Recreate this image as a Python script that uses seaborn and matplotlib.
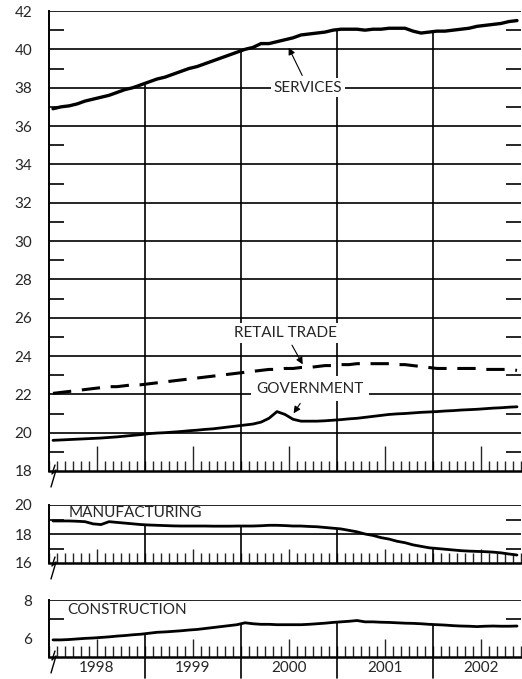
import numpy as np
import pandas as pd
import seaborn as sns
import matplotlib.pyplot as plt
from matplotlib import transforms

# Monthly employment by sector, millions (Jan 1998 - Nov 2002)
services = [36.9, 37.0, 37.05, 37.15, 37.3, 37.4, 37.5, 37.6, 37.75, 37.9, 38.0, 38.15,
            38.3, 38.45, 38.55, 38.7, 38.85, 39.0, 39.1, 39.25, 39.4, 39.55, 39.7, 39.85,
            40.0, 40.1, 40.3, 40.3, 40.4, 40.5, 40.6, 40.75, 40.8, 40.85, 40.9, 41.0,
            41.05, 41.05, 41.05, 41.0, 41.05, 41.05, 41.1, 41.1, 41.1, 40.95, 40.85, 40.9,
            40.95, 40.95, 41.0, 41.05, 41.1, 41.2, 41.25, 41.3, 41.35, 41.45, 41.5]
retail = [22.05, 22.1, 22.15, 22.2, 22.25, 22.3, 22.35, 22.4, 22.4, 22.45, 22.5, 22.5,
          22.55, 22.6, 22.65, 22.7, 22.75, 22.8, 22.85, 22.9, 22.95, 23.0, 23.05, 23.1,
          23.15, 23.2, 23.25, 23.3, 23.3, 23.35, 23.35, 23.4, 23.4, 23.45, 23.5, 23.5,
          23.55, 23.55, 23.6, 23.6, 23.6, 23.6, 23.6, 23.55, 23.55, 23.5, 23.45, 23.4,
          23.35, 23.35, 23.35, 23.35, 23.35, 23.35, 23.3, 23.3, 23.3, 23.3, 23.25]
government = [19.6, 19.62, 19.64, 19.66, 19.68, 19.7, 19.72, 19.75, 19.78, 19.82, 19.86, 19.9,
              19.95, 19.98, 20.0, 20.03, 20.06, 20.1, 20.13, 20.17, 20.2, 20.25, 20.3, 20.35,
              20.4, 20.45, 20.55, 20.75, 21.1, 20.95, 20.7, 20.6, 20.6, 20.6, 20.62, 20.65,
              20.68, 20.72, 20.75, 20.8, 20.85, 20.9, 20.95, 20.98, 21.0, 21.03, 21.06, 21.08,
              21.1, 21.13, 21.15, 21.18, 21.2, 21.22, 21.25, 21.28, 21.3, 21.33, 21.35]
manufacturing = [18.9, 18.9, 18.9, 18.88, 18.85, 18.7, 18.65, 18.85, 18.8, 18.75, 18.7, 18.65,
                 18.62, 18.6, 18.58, 18.56, 18.55, 18.55, 18.55, 18.55, 18.54, 18.54, 18.54, 18.55,
                 18.55, 18.55, 18.57, 18.6, 18.6, 18.58, 18.55, 18.55, 18.52, 18.5, 18.45, 18.4,
                 18.35, 18.25, 18.15, 18.0, 17.9, 17.75, 17.65, 17.5, 17.4, 17.25, 17.15, 17.05,
                 17.0, 16.95, 16.9, 16.85, 16.82, 16.8, 16.78, 16.75, 16.7, 16.62, 16.55]
construction = [5.9, 5.9, 5.92, 5.95, 5.98, 6.0, 6.03, 6.06, 6.1, 6.13, 6.17, 6.2,
                6.25, 6.3, 6.32, 6.35, 6.38, 6.42, 6.45, 6.5, 6.55, 6.6, 6.65, 6.7,
                6.8, 6.75, 6.72, 6.72, 6.7, 6.7, 6.7, 6.7, 6.72, 6.75, 6.78, 6.82,
                6.85, 6.88, 6.92, 6.85, 6.85, 6.83, 6.82, 6.8, 6.78, 6.77, 6.75, 6.72,
                6.7, 6.68, 6.65, 6.63, 6.62, 6.6, 6.62, 6.63, 6.62, 6.62, 6.63]
years = [1998, 1999, 2000, 2001, 2002]
year_labels = ['1998', '1999', '2000', '2001', '2002']

months = pd.date_range('1998-01-01', periods=len(services), freq='MS')
t = months.year + (months.month - 0.5) / 12
df = pd.DataFrame({'t': t, 'services': services, 'retail': retail,
                   'government': government, 'manufacturing': manufacturing,
                   'construction': construction})

sns.set_style('white')
plt.rcParams['font.family'] = ['Lato', 'DejaVu Sans']

fig = plt.figure(figsize=(5.22, 6.79), dpi=100)
L, W = 49 / 522, 472 / 522
ax_top = fig.add_axes([L, 1 - 471 / 679, W, 460 / 679])
ax_mid = fig.add_axes([L, 1 - 563 / 679, W, 58 / 679])
ax_bot = fig.add_axes([L, 1 - 657 / 679, W, 57 / 679])

xmin, xmax = 1998, 1998 + 59 / 12
month_edges = np.arange(xmin, xmax + 1e-6, 1 / 12)
julys = [y + 0.5 for y in years]


def style(ax, ylim, major, minor, top_col, long_len, short_len):
    ax.set_xlim(xmin, xmax)
    ax.set_ylim(*ylim)
    ax.set_xlabel('')
    ax.set_ylabel('')
    ax.set_yticks(major)
    ax.set_yticks(minor, minor=True)
    ax.tick_params(axis='y', which='major', length=0, labelsize=11, pad=12)
    ax.tick_params(axis='y', which='minor', direction='in', length=11, width=1.4,
                   left=True, right=True)
    ax.set_xticks(julys)
    ax.set_xticks(month_edges, minor=True)
    ax.tick_params(axis='x', which='major', direction='in', length=long_len, width=1.0,
                   bottom=True, labelbottom=False)
    ax.tick_params(axis='x', which='minor', direction='in', length=short_len, width=1.0,
                   bottom=True)
    for v in major[1:]:
        ax.axhline(v, color='black', lw=1.2, zorder=1)
    # year dividers run from the axis up to the top series
    for y in years[1:]:
        ax.vlines(y, ylim[0], np.interp(y, df['t'], df[top_col]), color='black',
                  lw=1.2, zorder=1)
    for s in ['top', 'right']:
        ax.spines[s].set_visible(False)
    ax.spines['left'].set_linewidth(1.4)
    ax.spines['bottom'].set_linewidth(1.8)
    ax.spines['left'].set_color('black')
    ax.spines['bottom'].set_color('black')
    # axis break mark at lower left
    tr = transforms.ScaledTranslation(0, 0, ax.transAxes)
    ax.plot([6, 3, 7, 2], [6, -3, 1, -16], color='black', lw=1.0,
            transform=tr, clip_on=False)


# top panel
sns.lineplot(data=df, x='t', y='services', ax=ax_top, color='black', lw=2.4, zorder=3)
sns.lineplot(data=df, x='t', y='retail', ax=ax_top, color='black', lw=2.2,
             dashes=False, zorder=3)
ax_top.lines[-1].set_dashes([6, 3.5])
sns.lineplot(data=df, x='t', y='government', ax=ax_top, color='black', lw=2.0, zorder=3)
style(ax_top, (18, 42), list(range(18, 43, 2)), list(range(19, 42, 2)),
      'services', 18, 7)

box = dict(fc='white', ec='none', pad=2)
arrow = dict(arrowstyle='-|>', color='black', lw=0.8, mutation_scale=10,
             shrinkA=2, shrinkB=1)
ax_top.annotate('SERVICES', xy=(2000.49, 40.15), xytext=(2000.70, 38), ha='center',
                va='center', fontsize=11, bbox=box, arrowprops=arrow, zorder=5)
ax_top.annotate('RETAIL TRADE', xy=(2000.65, 23.5), xytext=(2000.46, 25.2), ha='center',
                va='center', fontsize=11, bbox=box, arrowprops=arrow, zorder=5)
ax_top.annotate('GOVERNMENT', xy=(2000.54, 20.95), xytext=(2000.72, 22.3), ha='center',
                va='center', fontsize=11, bbox=dict(fc='white', ec='none', pad=4),
                arrowprops=arrow, zorder=5)

# manufacturing panel
sns.lineplot(data=df, x='t', y='manufacturing', ax=ax_mid, color='black', lw=2.0, zorder=3)
style(ax_mid, (16, 20), [16, 18, 20], [17, 19], 'manufacturing', 10, 7)
ax_mid.text(1998.2, 19.45, 'MANUFACTURING', fontsize=11, va='center', ha='left')

# construction panel
sns.lineplot(data=df, x='t', y='construction', ax=ax_bot, color='black', lw=2.0, zorder=3)
style(ax_bot, (5, 8), [6, 8], [7], 'construction', 13, 8)
ax_bot.set_yticks([6, 8])
ax_bot.text(1998.19, 7.45, 'CONSTRUCTION', fontsize=11, va='center', ha='left')
ax_bot.set_xticklabels(year_labels)
ax_bot.tick_params(axis='x', which='major', labelbottom=True, labelsize=11, pad=3)
# year dividers continue below the bottom axis
btr = transforms.blended_transform_factory(ax_bot.transData, ax_bot.transAxes)
for y in years[1:]:
    ax_bot.plot([y, y], [0, -0.36], color='black', lw=1.2, transform=btr, clip_on=False)

fig.savefig('out.png', dpi=100)
